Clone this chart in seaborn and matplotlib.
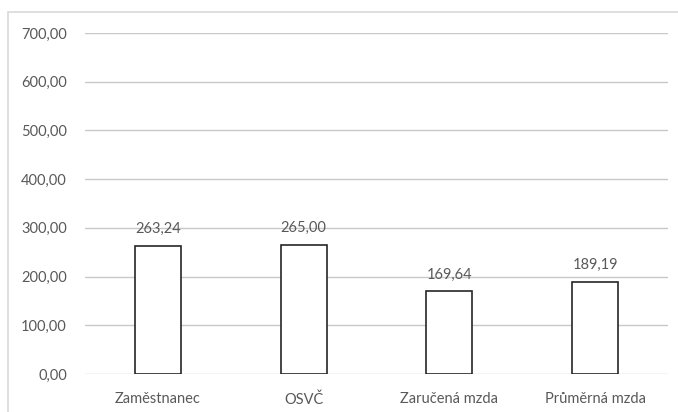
import matplotlib
matplotlib.use("Agg")
from matplotlib import pyplot as plt
from matplotlib.patches import Rectangle
import seaborn as sns
import pandas as pd

categories = ["Zaměstnanec", "OSVČ", "Zaručená mzda", "Průměrná mzda"]
values = [263.24, 265.00, 169.64, 189.19]
yticks = [0, 100, 200, 300, 400, 500, 600, 700]

df = pd.DataFrame({"cat": categories, "val": values})

sns.set_style("white")
plt.rcParams["font.family"] = ["Lato", "DejaVu Sans"]

txt = "#595959"
fig = plt.figure(figsize=(6.78, 4.12), dpi=100)
ax = fig.add_axes([85/678, 1-374/412, (668-85)/678, (374-33)/412])

# chart frame (excel style)
fig.patches.append(Rectangle((8/678, -0.1), 1.2, 1 - 12/412 + 0.1, transform=fig.transFigure,
                             fill=False, edgecolor="#d9d9d9", linewidth=1.2))

sns.barplot(data=df, x="cat", y="val", ax=ax, color="white", edgecolor="#262626",
            linewidth=1.2, width=0.315, zorder=3)

ax.set_ylim(0, 700)
ax.set_yticks(yticks)
ax.set_yticklabels([f"{v:.2f}".replace(".", ",") for v in yticks], color=txt, fontsize=10.5)
ax.set_xticklabels(categories, color=txt, fontsize=10.5)
ax.tick_params(axis="y", length=0, pad=13)
ax.tick_params(axis="x", length=0, pad=13)
ax.set_xlabel("")
ax.set_ylabel("")
ax.grid(axis="y", color="#c8c8c8", linewidth=1, zorder=0)
for s in ax.spines.values():
    s.set_visible(False)

for p, v in zip(ax.patches, values):
    ax.text(p.get_x() + p.get_width()/2, v + 20, f"{v:.2f}".replace(".", ","),
            ha="center", va="bottom", color=txt, fontsize=10.5, zorder=4)

plt.savefig("out.png", dpi=100)
